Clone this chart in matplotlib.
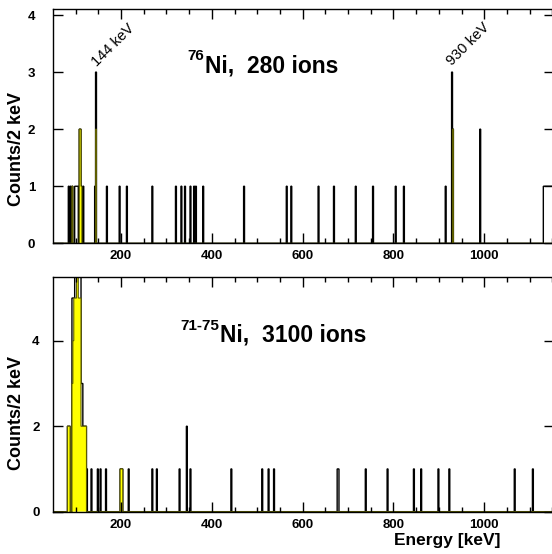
import numpy as np
import matplotlib
matplotlib.use('Agg')
import matplotlib.pyplot as plt
from matplotlib.ticker import MultipleLocator

plt.rcParams['font.family'] = ['Liberation Sans', 'DejaVu Sans']
plt.rcParams['font.weight'] = 'bold'

# 2 keV bins, values are the lower bin edge in keV
ni76_e = [84, 88, 92, 98, 100, 102, 104, 108, 110, 112, 116, 142, 144, 168, 196, 212,
          268, 320, 332, 340, 352, 360, 364, 380, 470, 564, 574, 634, 668, 716, 754,
          804, 822, 914, 928, 930, 990,
          1130, 1132, 1134, 1136, 1138, 1140, 1142, 1144, 1146, 1148, 1150, 1152,
          1154, 1156, 1158]
ni76_n = [1, 1, 1, 1, 1, 1, 1, 2, 2, 1, 1, 1, 3, 1, 1, 1,
          1, 1, 1, 1, 1, 1, 1, 1, 1, 1, 1, 1, 1, 1, 1,
          1, 1, 1, 3, 2, 2,
          1, 1, 1, 1, 1, 1, 1, 1, 1, 1, 1, 1,
          1, 1, 1]
ni76_gate_e = [92, 108, 110, 112, 144, 930]
ni76_gate_n = [1, 2, 2, 1, 2, 2]

ni7175_e = [82, 84, 86, 92, 94, 96, 98, 100, 102, 104, 106, 108, 110, 112, 114,
            116, 118, 120, 122, 124, 134, 148, 154, 166, 198, 200, 202, 216, 268,
            278, 328, 344, 352, 442, 510, 524, 536, 676, 678, 738, 786,
            844, 860, 898, 922, 1066, 1106]
ni7175_n = [2, 2, 2, 5, 5, 5, 7, 8, 9, 8, 7, 7, 6, 3, 3,
            2, 2, 2, 2, 1, 1, 1, 1, 1, 1, 1, 1, 1, 1,
            1, 1, 2, 1, 1, 1, 1, 1, 1, 1, 1, 1,
            1, 1, 1, 1, 1, 1]
ni7175_gate_e = [82, 84, 86, 92, 94, 96, 98, 100, 102, 104, 106, 108, 110, 112, 114,
                 116, 118, 120, 122, 198, 200, 202]
ni7175_gate_n = [2, 2, 2, 3, 4, 5, 5, 5, 6, 6, 5, 5, 5, 2, 2,
                 2, 2, 2, 2, 1, 1, 1]

edges = np.arange(50, 1162, 2)


def fill_hist(energies, counts):
    h = np.zeros(len(edges) - 1)
    for e, c in zip(energies, counts):
        h[(e - 50) // 2] = c
    return h


fig = plt.figure(figsize=(5.52, 5.54), dpi=100)
# right spine sits just past the picture edge, as in the original
ax1 = fig.add_axes([0.0966, 0.5608, 0.9062, 0.4224])
ax2 = fig.add_axes([0.0966, 0.0764, 0.9062, 0.4242])

panels = [
    (ax1, ni76_e, ni76_n, ni76_gate_e, ni76_gate_n, 4.1, 1, 13),
    (ax2, ni7175_e, ni7175_n, ni7175_gate_e, ni7175_gate_n, 5.5, 2, 10),
]

for ax, e, n, ge, gn, ymax, ystep, ypad in panels:
    ax.stairs(fill_hist(e, n), edges, color='black', linewidth=1.0)
    ax.stairs(fill_hist(ge, gn), edges, fill=True, facecolor='#ffff00',
              edgecolor='#5c5c00', linewidth=0.8)
    ax.set_xlim(51, 1152.5)
    ax.set_ylim(0, ymax)
    ax.xaxis.set_major_locator(MultipleLocator(200))
    ax.xaxis.set_minor_locator(MultipleLocator(50))
    ax.yaxis.set_major_locator(MultipleLocator(ystep))
    ax.tick_params(which='both', direction='in', top=True, right=True, width=1.0)
    ax.tick_params(which='major', length=7, labelsize=9.5)
    ax.tick_params(axis='x', which='major', pad=5)
    ax.tick_params(axis='y', which='major', pad=ypad)
    ax.tick_params(which='minor', length=3.5)
    for s in ax.spines.values():
        s.set_linewidth(1.0)
    ax.set_ylabel('Counts/2 keV', fontsize=13, fontweight='bold')

ax1.yaxis.set_label_coords(-0.057, 0.403)
ax2.yaxis.set_label_coords(-0.057, 0.42)

# peak labels
ax1.text(152, 3.05, '144 keV', rotation=45, rotation_mode='anchor',
         ha='left', va='bottom', fontsize=10.5, fontweight='normal')
ax1.text(933, 3.07, '930 keV', rotation=45, rotation_mode='anchor',
         ha='left', va='bottom', fontsize=10.5, fontweight='normal')

# titles
ax1.text(386, 3.0, 'Ni,  280 ions', fontsize=16.5, fontweight='bold',
         ha='left', va='baseline')
ax1.text(384, 3.22, '76', fontsize=11, fontweight='bold', ha='right', va='baseline')
ax2.text(418, 3.98, 'Ni,  3100 ions', fontsize=16.5, fontweight='bold',
         ha='left', va='baseline')
ax2.text(416, 4.26, '71-75', fontsize=11, fontweight='bold', ha='right', va='baseline')

fig.text(447 / 552, 1 - 541 / 554, 'Energy [keV]', fontsize=12.5, fontweight='bold',
         ha='center', va='center')

fig.savefig('out.png', dpi=100)
